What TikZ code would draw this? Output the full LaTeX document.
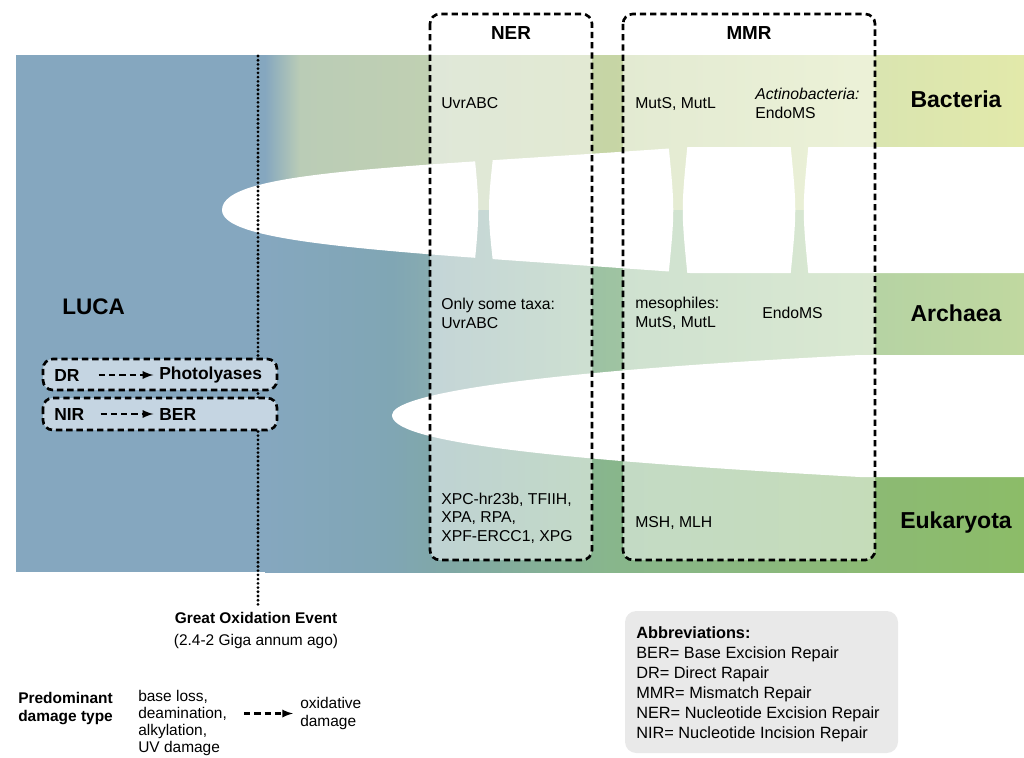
\documentclass[tikz,border=0pt]{standalone}
\usepackage{fontspec}
\setmainfont{Liberation Sans}
\usetikzlibrary{arrows}

\definecolor{lucablue}{RGB}{133,167,191}
\definecolor{lucabox}{RGB}{197,213,226}
\definecolor{abbrgray}{RGB}{233,233,233}
% bacteria row
\definecolor{bacA}{RGB}{186,204,182}
\definecolor{bacB}{RGB}{192,208,178}
\definecolor{bacC}{RGB}{198,213,165}
\definecolor{bacD}{RGB}{218,229,176}
\definecolor{bacE}{RGB}{226,233,170}
% archaea row
\definecolor{arcA}{RGB}{128,166,180}
\definecolor{arcB}{RGB}{140,174,174}
\definecolor{arcC}{RGB}{158,195,162}
\definecolor{arcD}{RGB}{182,211,163}
\definecolor{arcE}{RGB}{192,216,160}
% eukaryota row
\definecolor{eukB}{RGB}{128,168,165}
\definecolor{eukC}{RGB}{136,182,140}
\definecolor{eukD}{RGB}{140,186,115}
\definecolor{eukE}{RGB}{140,188,104}

\pgfdeclarehorizontalshading{bactshade}{100bp}{color(0bp)=(lucablue); color(25bp)=(lucablue);
  color(27.3bp)=(bacA); color(35.9bp)=(bacB); color(47.7bp)=(bacC); color(65.5bp)=(bacD);
  color(75bp)=(bacE); color(100bp)=(bacE)}
\pgfdeclarehorizontalshading{archshade}{100bp}{color(0bp)=(lucablue); color(25bp)=(lucablue);
  color(33.4bp)=(arcA); color(37.2bp)=(arcB); color(47.7bp)=(arcC); color(65.5bp)=(arcD);
  color(75bp)=(arcE); color(100bp)=(arcE)}
\pgfdeclarehorizontalshading{eukshade}{100bp}{color(0bp)=(lucablue); color(25bp)=(lucablue);
  color(33.4bp)=(arcA); color(37.2bp)=(eukB); color(47.7bp)=(eukC); color(65.5bp)=(eukD);
  color(75bp)=(eukE); color(100bp)=(eukE)}

\begin{document}
\begin{tikzpicture}[x=0.025cm,y=-0.025cm,
  txt/.style={anchor=west,align=left,inner sep=0pt,font=\fontsize{11.2}{13.3}\selectfont},
  domlabel/.style={inner sep=0pt,font=\bfseries\fontsize{16.4}{19}\selectfont},
  head/.style={inner sep=0pt,font=\bfseries\fontsize{13.4}{16}\selectfont},
  lucatxt/.style={anchor=west,inner sep=0pt,font=\bfseries\fontsize{12.4}{15}\selectfont},
  repbox/.style={draw=black,line width=1.9pt,dash pattern=on 4.5pt off 2.8pt,
    rounded corners=7pt,fill=white,fill opacity=0.5},
  lucaframe/.style={draw=black,fill=lucabox,line width=1.9pt,dash pattern=on 4.5pt off 2.8pt,
    rounded corners=7pt},
  dotline/.style={line width=2.2pt,line cap=round,dash pattern=on 0pt off 3pt},
  dasharrow/.style={->,>=latex,line width=1.6pt,dash pattern=on 4.5pt off 2.8pt}]
\useasboundingbox (0,0) rectangle (1024,757);

% background band
\fill[lucablue] (16,55) rectangle (266,572);
\shade[shading=bactshade] (265,55) rectangle (1024,211);
\shade[shading=archshade] (265,210) rectangle (1024,416);
\shade[shading=eukshade] (265,415) rectangle (1024,572);

% white split between bacteria and archaea
\begin{scope}
\clip (222,210) .. controls (222,170) and (400,168) .. (690,147) -- (1030,147)
  -- (1030,273) -- (690,273) .. controls (400,252) and (222,245) .. (222,210);
\fill[white] (200,140) -- (473,140) .. controls (480,210) .. (473,280) -- (200,280) -- cycle;
\fill[white] (495,140) .. controls (487,210) .. (495,280) -- (668,280) .. controls (675,210) .. (668,140) -- cycle;
\fill[white] (688,140) .. controls (681,210) .. (688,280) -- (790,280) .. controls (797,210) .. (790,140) -- cycle;
\fill[white] (809,140) .. controls (802,210) .. (809,280) -- (1030,280) -- (1030,140) -- cycle;
\end{scope}
% white split between archaea and eukaryota
\fill[white] (392,415) .. controls (392,395) and (520,372) .. (860,355) -- (1030,355)
  -- (1030,477) -- (860,477) .. controls (520,458) and (392,440) .. (392,415) -- cycle;

% great oxidation event
\coordinate (goetop) at (258,56);
\coordinate (goebot) at (258,605);
\draw[dotline] (goetop) -- (goebot);

% LUCA repair
\draw[lucaframe] (43,359) rectangle (277,390);
\draw[lucaframe] (43,398) rectangle (277,430);
\node[lucatxt] (dr) at (54,375) {DR};
\node[lucatxt] (photo) at (159,375) {Photolyases};
\node[lucatxt] (nir) at (54,414) {NIR};
\node[lucatxt] (ber) at (159,414) {BER};
\draw[dasharrow,shorten <=13.5pt,shorten >=4pt] (dr) -- (photo);
\draw[dasharrow,shorten <=11.4pt,shorten >=4pt] (nir) -- (ber);
\node[anchor=west,inner sep=0pt,font=\bfseries\fontsize{16}{19}\selectfont] (luca) at (62,307) {LUCA};

% NER and MMR
\draw[repbox] (430,14) rectangle (592,560);
\draw[repbox] (623,14) rectangle (875,560);
\node[head] (ner) at (511,33) {NER};
\node[head] (mmr) at (749,33) {MMR};

\node[txt] (uvrb) at (441,103) {UvrABC};
\node[txt] (mutb) at (635,104) {MutS, MutL};
\node[txt] (endob) at (755,103.5) {\textit{Actinobacteria:}\\EndoMS};
\node[txt] (uvra) at (441,313.5) {Only some taxa:\\UvrABC};
\node[txt] (muta) at (635,313) {mesophiles:\\MutS, MutL};
\node[txt] (endoa) at (762,313) {EndoMS};
\node[txt] (xpe) at (441,518) {XPC-hr23b, TFIIH,\\XPA, RPA,\\XPF-ERCC1, XPG};
\node[txt] (mshe) at (635,523) {MSH, MLH};

\node[domlabel] (bact) at (956,99) {Bacteria};
\node[domlabel] (arch) at (956,313) {Archaea};
\node[domlabel] (euk) at (956,523) {Eukaryota};

% bottom notes
\node[align=center,inner sep=0pt,font=\fontsize{11}{15}\selectfont] (goe) at (256,630.5)
  {\textbf{Great Oxidation Event}\\(2.4-2 Giga annum ago)};
\node[txt,font=\bfseries\fontsize{11}{12.8}\selectfont] (pred) at (18,709) {Predominant\\damage type};
\node[txt,font=\fontsize{11}{12.3}\selectfont] (dmgold) at (138,723) {base loss,\\deamination,\\alkylation,\\UV damage};
\node[txt,font=\fontsize{11}{12.3}\selectfont] (dmgox) at (300,713.5) {oxidative\\damage};
\draw[dasharrow,shorten <=12pt,shorten >=5pt] (dmgold.east |- dmgox.west) -- (dmgox.west);

\fill[abbrgray,rounded corners=8pt] (625,611) rectangle (898,753);
\node[txt,font=\fontsize{11.6}{14.2}\selectfont] (abbr) at (636,684)
  {\textbf{Abbreviations:}\\BER= Base Excision Repair\\DR= Direct Rapair\\MMR= Mismatch Repair\\NER= Nucleotide Excision Repair\\NIR= Nucleotide Incision Repair};
\end{tikzpicture}
\end{document}
